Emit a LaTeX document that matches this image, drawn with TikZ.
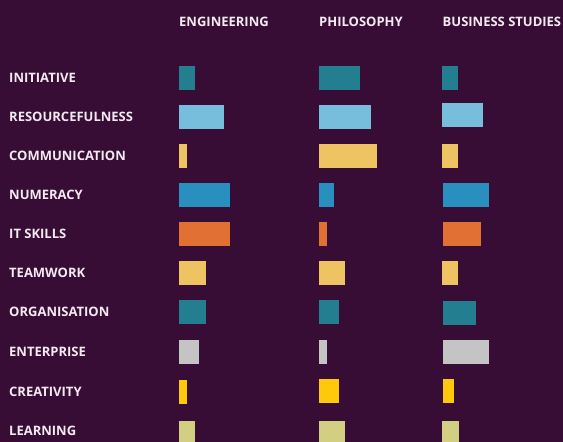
\documentclass[tikz,border=0pt]{standalone}
\usepackage{fontspec}
\setmainfont{Open Sans}
\definecolor{bg}{HTML}{370D36}
\definecolor{txt}{HTML}{F2EAF0}
\definecolor{cteal}{HTML}{237F8F}
\definecolor{clblue}{HTML}{77BEDD}
\definecolor{cyel}{HTML}{EEC362}
\definecolor{cblue}{HTML}{288FBF}
\definecolor{corange}{HTML}{E07033}
\definecolor{cgray}{HTML}{C4C4C4}
\definecolor{cbyel}{HTML}{FFC90B}
\definecolor{ckhaki}{HTML}{D2CE82}
\begin{document}
\begin{tikzpicture}[x=1pt,y=-1pt,
  lbl/.style={anchor=west,inner sep=0pt,text=txt,font=\bfseries\fontsize{13}{13}\selectfont},
  hdr/.style={anchor=west,inner sep=0pt,text=txt,font=\bfseries\fontsize{13}{13}\selectfont}]
\fill[bg] (0,0) rectangle (563,442);
\useasboundingbox (0,0) rectangle (563,442);
% headers
\node[hdr] (h1) at (179,22) {ENGINEERING};
\node[hdr] (h2) at (319,22) {PHILOSOPHY};
\node[hdr] (h3) at (442.5,22) {BUSINESS STUDIES};
% row labels
\node[lbl] (r1) at (9,77.5) {INITIATIVE};
\node[lbl] (r2) at (9,116.5) {RESOURCEFULNESS};
\node[lbl] (r3) at (9,155.5) {COMMUNICATION};
\node[lbl] (r4) at (9,194.5) {NUMERACY};
\node[lbl] (r5) at (9,233.5) {IT SKILLS};
\node[lbl] (r6) at (9,272.5) {TEAMWORK};
\node[lbl] (r7) at (9,311.5) {ORGANISATION};
\node[lbl] (r8) at (9,351.5) {ENTERPRISE};
\node[lbl] (r9) at (9,391.5) {CREATIVITY};
\node[lbl] (r10) at (9,430.5) {LEARNING};
% bars: initiative
\fill[cteal] (179,66) rectangle (195,90);
\fill[cteal] (319,66) rectangle (360,90);
\fill[cteal] (442,66) rectangle (458,90);
% resourcefulness
\fill[clblue] (179,105) rectangle (224,129);
\fill[clblue] (319,105) rectangle (371,129);
\fill[clblue] (442,103) rectangle (483,127);
% communication
\fill[cyel] (179,144) rectangle (187,168);
\fill[cyel] (319,144) rectangle (377,168);
\fill[cyel] (442,144) rectangle (458,168);
% numeracy
\fill[cblue] (179,183) rectangle (230,207);
\fill[cblue] (319,183) rectangle (334,207);
\fill[cblue] (443,183) rectangle (489,207);
% it skills
\fill[corange] (179,222) rectangle (230,246);
\fill[corange] (319,222) rectangle (327,246);
\fill[corange] (443,222) rectangle (481,246);
% teamwork
\fill[cyel] (179,261) rectangle (206,285);
\fill[cyel] (319,261) rectangle (345,285);
\fill[cyel] (442,261) rectangle (458,285);
% organisation
\fill[cteal] (179,300) rectangle (206,324);
\fill[cteal] (319,300) rectangle (339,324);
\fill[cteal] (443,301) rectangle (476,325);
% enterprise
\fill[cgray] (179,340) rectangle (199,364);
\fill[cgray] (319,340) rectangle (327,364);
\fill[cgray] (443,340) rectangle (489,364);
% creativity
\fill[cbyel] (179,380) rectangle (187,404);
\fill[cbyel] (319,379) rectangle (339,403);
\fill[cbyel] (443,379) rectangle (454,403);
% learning
\fill[ckhaki] (179,421) rectangle (195,445);
\fill[ckhaki] (319,421) rectangle (345,445);
\fill[ckhaki] (442,421) rectangle (459,445);
\end{tikzpicture}
\end{document}
